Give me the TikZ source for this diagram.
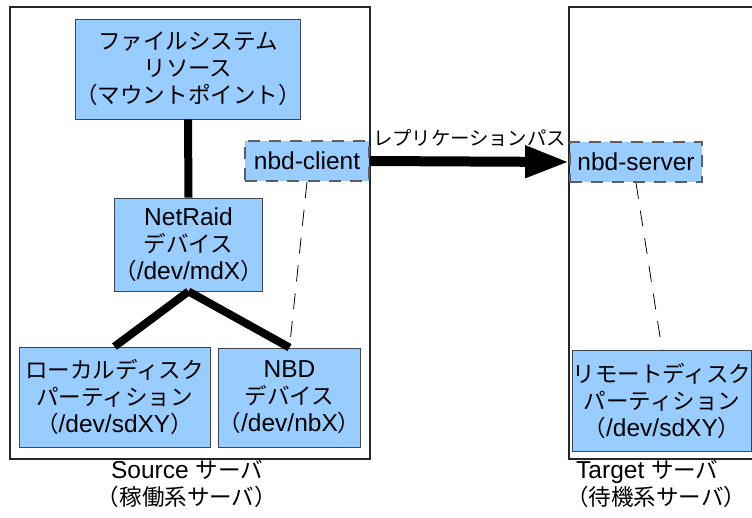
\documentclass[tikz,border=0pt]{standalone}
\usepackage{fontspec}
\setmainfont{Liberation Sans}
\newfontfamily\jp{Noto Sans CJK JP}[Scale=0.92]
\usetikzlibrary{arrows.meta}
\definecolor{boxfill}{HTML}{99CCFF}
\definecolor{boxline}{HTML}{3F4650}
\definecolor{dashline}{HTML}{5A5F66}
\begin{document}
\begin{tikzpicture}[x=1pt,y=-1pt,
  every node/.style={font=\fontsize{24.5}{27}\selectfont, inner sep=0pt},
  comp/.style={draw=boxline, line width=0.9pt, fill=boxfill, align=center},
  proc/.style={fill=boxfill, draw=dashline, line width=1.8pt,
    dash pattern=on 12pt off 9pt, align=center},
  server/.style={draw=black!85, line width=1.2pt},
  link/.style={line width=8pt},
  assoc/.style={line width=0.8pt, dash pattern=on 16pt off 12pt},
  caption/.style={align=center}]
\useasboundingbox (0,0) rectangle (752,518);
\clip (0,0) rectangle (752,518);

% server enclosures
\draw[server] (10,7) rectangle (370,459);
\draw[server] (569,7) rectangle (780,459);

% source side components
\node[comp, minimum width=220pt, minimum height=100pt] (fs) at (188,69)
  {\jp ファイルシステム\\\jp リソース\\\jp （マウントポイント）};
\node[comp, minimum width=139pt, minimum height=93pt] (md) at (188.5,244.5)
  {NetRaid\\{\jp デバイス}\\{\jp （}/dev/mdX{\jp ）}};
\node[comp, minimum width=191pt, minimum height=100pt] (sd) at (114.5,397)
  {\jp ローカルディスク\\\jp パーティション\\{\jp （}/dev/sdXY{\jp ）}};
\node[comp, minimum width=139pt, minimum height=99pt] (nb) at (289.5,397.5)
  {NBD\\{\jp デバイス}\\{\jp （}/dev/nbX{\jp ）}};
\node[proc, minimum width=124pt, minimum height=40pt] (cl) at (307,161) {nbd-client};

% target side components
\node[proc, minimum width=132pt, minimum height=40pt] (sv) at (636,162) {nbd-server};
\node[comp, minimum width=178pt, minimum height=101pt] (rd) at (662,400.5)
  {\jp リモートディスク\\\jp パーティション\\{\jp （}/dev/sdXY{\jp ）}};

% block device stack
\draw[link] (fs.south) -- (md.north);
\draw[link] (md.south) -- (sd.north);
\draw[link] (md.south) -- (nb.north);

% nbd associations
\draw[assoc] (cl.south) -- (nb.north);
\draw[assoc] (sv.south) -- (rd.north);

% replication path
\draw[line width=10pt, -{Triangle[length=44pt,width=30pt]}]
  (cl.east) -- node[above=10pt, font=\fontsize{21}{24}\selectfont] {\jp レプリケーションパス} (sv.west);

% captions
\node[caption] (srccap) at (187,484) {Source {\jp サーバ}\\{\jp （稼働系サーバ）}};
\node[caption, anchor=west, align=left] (tgtcap) at (566,484)
  {\hspace*{10pt}Target {\jp サーバ}\\{\jp （待機系サーバ）}};
\end{tikzpicture}
\end{document}
